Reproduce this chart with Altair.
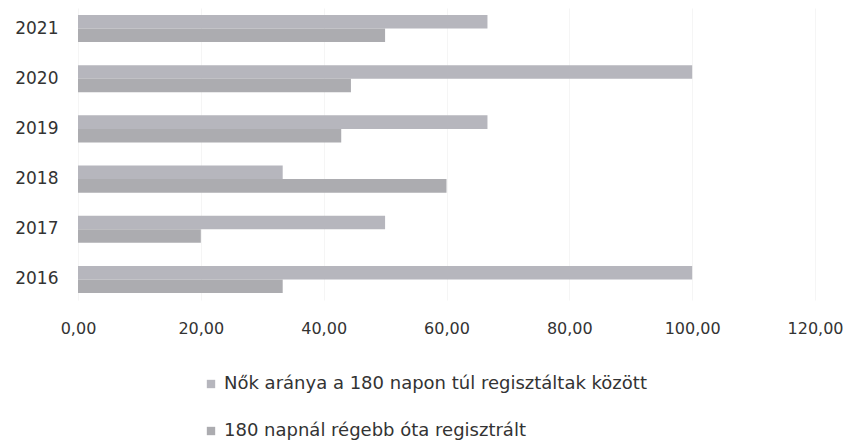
import altair as alt
import pandas as pd

years = ["2021", "2020", "2019", "2018", "2017", "2016"]
series = ["Nők aránya a 180 napon túl regisztáltak között", "180 napnál régebb óta regisztrált"]
nok_arany = [66.67, 100.0, 66.67, 33.33, 50.0, 100.0]
regebb = [50.0, 44.44, 42.86, 60.0, 20.0, 33.33]
colors = ["#b6b6bd", "#acacb0"]

rows = []
for i, y in enumerate(years):
    rows.append({"ev": y, "sorozat": series[0], "ertek": nok_arany[i], "ord": 0})
    rows.append({"ev": y, "sorozat": series[1], "ertek": regebb[i], "ord": 1})
df = pd.DataFrame(rows)

chart = alt.Chart(df).mark_bar().encode(
    y=alt.Y("ev:N", sort=years, title=None,
            scale=alt.Scale(paddingInner=0.46, paddingOuter=0.14),
            axis=alt.Axis(domain=False, ticks=False, labelFont="DejaVu Sans",
                          labelFontSize=17, labelColor="#333333", labelPadding=20)),
    yOffset=alt.YOffset("ord:O", scale=alt.Scale(paddingInner=0)),
    x=alt.X("ertek:Q", title=None,
            scale=alt.Scale(domain=[0, 120], nice=False),
            axis=alt.Axis(values=[0, 20, 40, 60, 80, 100, 120], domain=False, ticks=False,
                          grid=True, gridColor="#f5f5f5", labelFlush=False,
                          labelExpr="replace(format(datum.value, '.2f'), '.', ',')",
                          labelFont="DejaVu Sans", labelFontSize=16, labelColor="#333333",
                          labelPadding=20)),
    color=alt.Color("sorozat:N", sort=series,
                    scale=alt.Scale(domain=series, range=colors),
                    legend=alt.Legend(title=None, orient="none", legendX=124, legendY=367,
                                      direction="vertical", symbolType="square", symbolSize=70,
                                      labelFont="DejaVu Sans", labelFontSize=18,
                                      labelColor="#333333", labelLimit=700,
                                      rowPadding=29, symbolOffset=0)),
).properties(
    width=737, height=292,
    autosize=alt.AutoSizeParams(type="none"),
    padding={"left": 70, "top": 0, "right": 30, "bottom": 145},
).configure_view(stroke=None)

chart.save("out.html", embed_options={"renderer": "svg", "actions": False})
